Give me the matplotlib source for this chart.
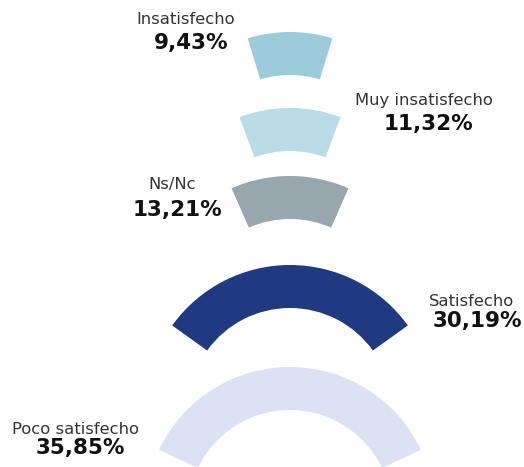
import matplotlib
matplotlib.use("Agg")
import matplotlib.pyplot as plt
from matplotlib.patches import Wedge

# data (top to bottom)
categories = ["Insatisfecho", "Muy insatisfecho", "Ns/Nc", "Satisfecho", "Poco satisfecho"]
values = [9.43, 11.32, 13.21, 30.19, 35.85]
colors = ["#9ccbdc", "#b9dce7", "#98a6ae", "#1f3a80", "#dce1f3"]

# layout (pixel coords, y measured from top)
W, H = 524, 467
cx = 290
cy_list = [177, 253, 321, 410, 512]
r_out = 145
ring = 43
name_pos = [(186, 20), (424, 100), (172, 184), (472, 302), (75, 429)]
val_pos = [(191, 43), (428, 124), (177, 210), (477, 321), (80, 448)]

fig = plt.figure(figsize=(W / 100, H / 100), dpi=100)
ax = fig.add_axes([0, 0, 1, 1])
ax.set_xlim(0, W)
ax.set_ylim(0, H)
ax.axis("off")

for i in range(len(categories)):
    span = values[i] * 3.6
    w = Wedge((cx, H - cy_list[i]), r_out, 90 - span / 2, 90 + span / 2,
              width=ring, facecolor=colors[i], edgecolor="none")
    ax.add_patch(w)
    nx, ny = name_pos[i]
    vx, vy = val_pos[i]
    ax.text(nx, H - ny, categories[i], ha="center", va="center",
            fontsize=11.8, color="#333333")
    ax.text(vx, H - vy, ("%.2f%%" % values[i]).replace(".", ","), ha="center",
            va="center", fontsize=15.5, fontweight="bold", color="#111111")

fig.savefig("out.png", dpi=100)
